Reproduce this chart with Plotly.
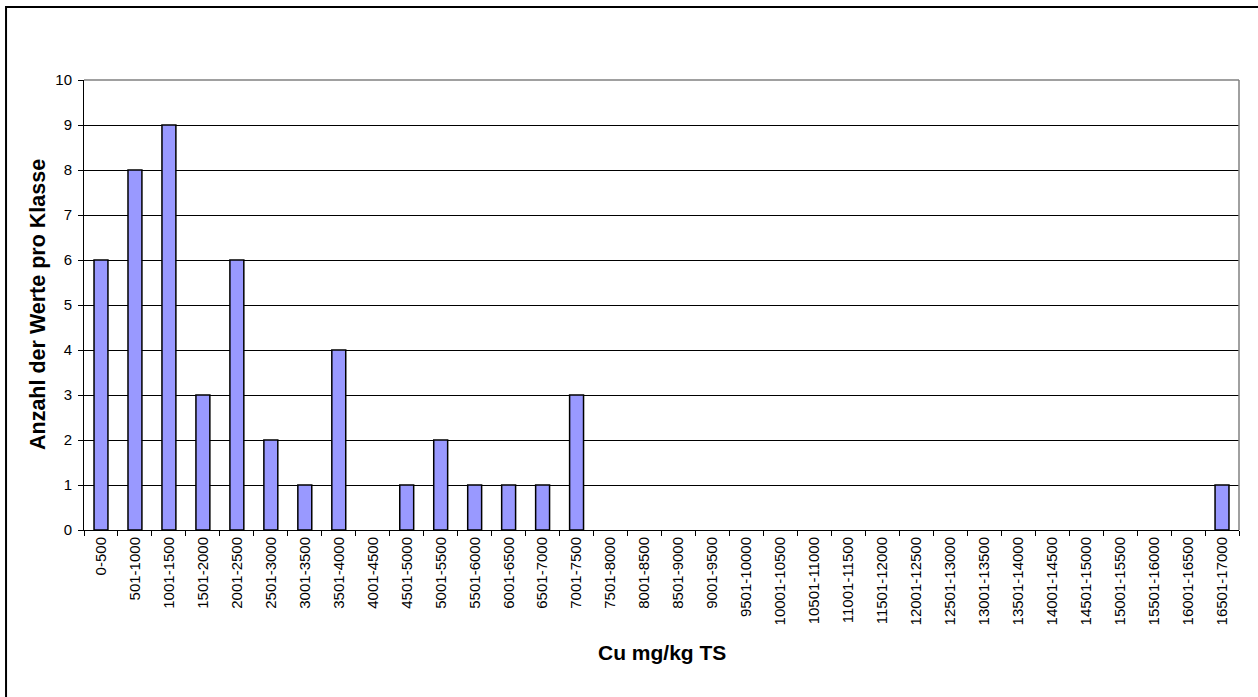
import plotly.graph_objects as go

categories = ["0-500", "501-1000", "1001-1500", "1501-2000", "2001-2500", "2501-3000",
              "3001-3500", "3501-4000", "4001-4500", "4501-5000", "5001-5500", "5501-6000",
              "6001-6500", "6501-7000", "7001-7500", "7501-8000", "8001-8500", "8501-9000",
              "9001-9500", "9501-10000", "10001-10500", "10501-11000", "11001-11500",
              "11501-12000", "12001-12500", "12501-13000", "13001-13500", "13501-14000",
              "14001-14500", "14501-15000", "15001-15500", "15501-16000", "16001-16500",
              "16501-17000"]
counts = [6, 8, 9, 3, 6, 2, 1, 4, 0, 1, 2, 1, 1, 1, 3, 0, 0, 0, 0, 0, 0, 0, 0, 0, 0, 0,
          0, 0, 0, 0, 0, 0, 0, 1]
y_ticks = [0, 1, 2, 3, 4, 5, 6, 7, 8, 9, 10]

x_title = "Cu mg/kg TS"
y_title = "Anzahl der Werte pro Klasse"

fig = go.Figure()
fig.add_trace(go.Bar(
    x=categories, y=counts,
    marker=dict(color="#9999FF",
                line=dict(color="black", width=[1.5 if c > 0 else 0 for c in counts])),
    hoverinfo="x+y",
))

font_family = "Liberation Sans, Arial, sans-serif"

fig.update_layout(
    width=1258, height=697,
    margin=dict(l=84, r=19, t=80, b=167),
    paper_bgcolor="white", plot_bgcolor="white",
    bargap=0.59,
    showlegend=False,
    font=dict(family=font_family, size=15, color="black"),
    xaxis=dict(
        type="category",
        tickangle=-90,
        tickson="boundaries",
        ticks="outside", ticklen=5, tickcolor="black", tickwidth=1,
        showline=True, linecolor="black", linewidth=1,
        showgrid=False,
        tickfont=dict(size=15, color="black"),
        automargin=False,
    ),
    yaxis=dict(
        range=[0, 10],
        tickvals=y_ticks,
        ticks="outside", ticklen=5, tickcolor="black", tickwidth=1,
        showline=True, linecolor="black", linewidth=1,
        showgrid=True, gridcolor="black", gridwidth=1,
        zeroline=False,
        ticklabelstandoff=3,
        tickfont=dict(size=15, color="black"),
        automargin=False,
    ),
    shapes=[
        dict(type="rect", xref="paper", yref="paper", x0=-0.0675, x1=1.05, y0=-0.5, y1=1.162,
             line=dict(color="black", width=2), fillcolor="rgba(0,0,0,0)", layer="below"),
        dict(type="line", xref="paper", yref="paper", x0=0, x1=1, y0=1, y1=1,
             line=dict(color="#808080", width=1.5), layer="above"),
        dict(type="line", xref="paper", yref="paper", x0=1, x1=1, y0=0, y1=1,
             line=dict(color="#808080", width=1.5), layer="above"),
    ],
    annotations=[
        dict(text="<b>" + x_title + "</b>", xref="paper", yref="paper", x=0.5, y=0,
             xanchor="center", yanchor="middle", yshift=-122, showarrow=False,
             font=dict(size=21, color="black", family=font_family)),
        dict(text="<b>" + y_title + "</b>", xref="paper", yref="paper", x=0, y=0.5,
             xanchor="center", yanchor="middle", xshift=-46, textangle=-90, showarrow=False,
             font=dict(size=21.5, color="black", family=font_family)),
    ],
)

fig.write_html("out.html", config={"displayModeBar": False},
               post_script="document.body.style.margin='0';")
